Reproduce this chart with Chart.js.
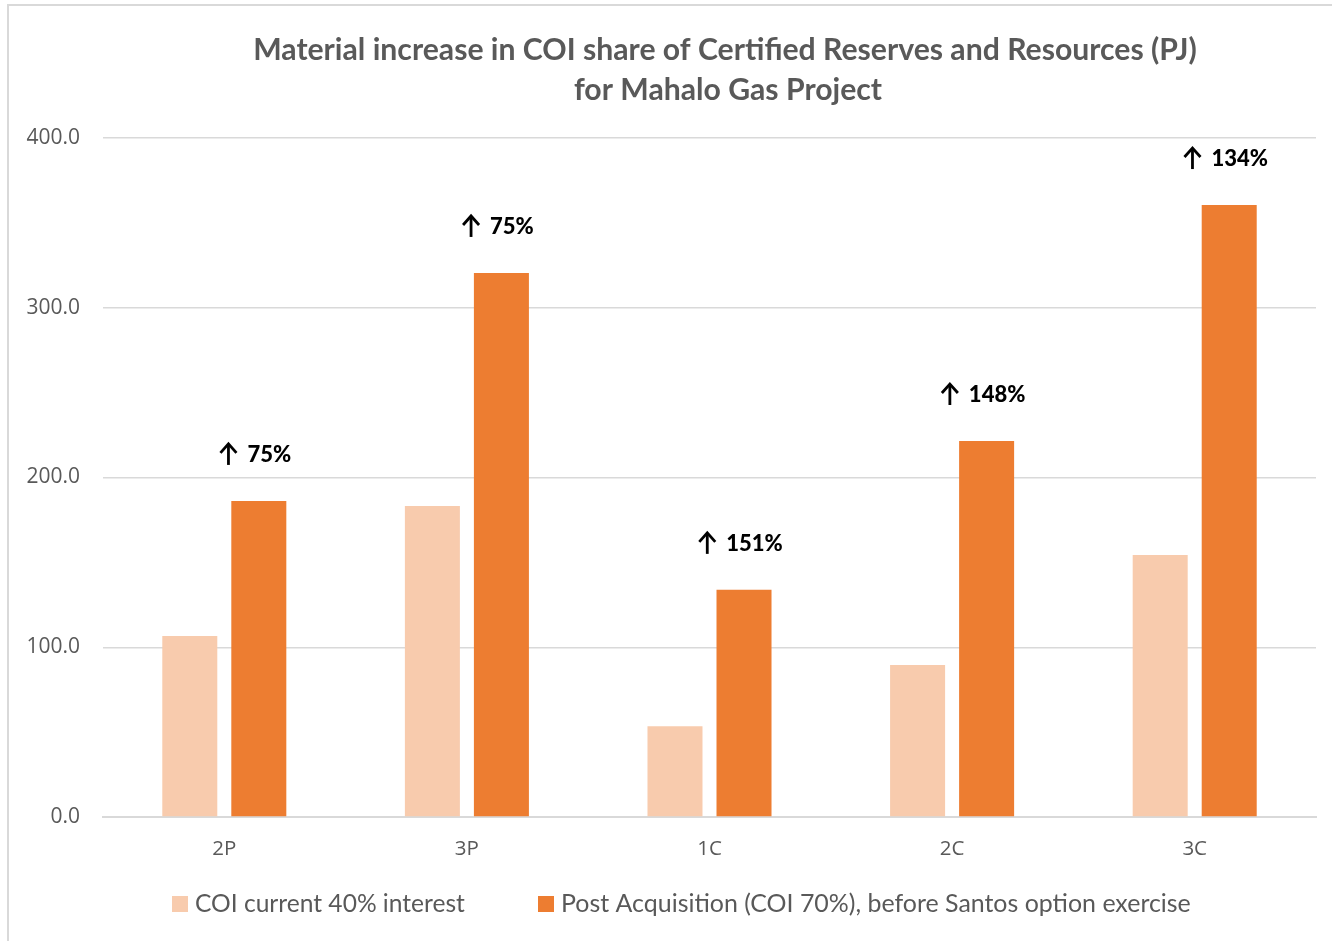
<!DOCTYPE html>
<html>
<head>
<meta charset="utf-8">
<script src="https://cdn.jsdelivr.net/npm/chart.js@4.4.1/dist/chart.umd.min.js"></script>
<style>
html,body{margin:0;padding:0;background:#fff;}
#frame{position:absolute;left:7px;top:4px;width:1400px;height:1000px;border-left:2px solid #d9d9d9;border-top:2px solid #d9d9d9;}
#wrap{position:absolute;left:0;top:0;width:1332px;height:941px;}
</style>
</head>
<body>
<div id="frame"></div>
<div id="wrap"><canvas id="c" width="1332" height="941"></canvas></div>
<script>
const categories = ['2P', '3P', '1C', '2C', '3C'];
const currentInterest = [106.6, 183.2, 53.5, 89.5, 154.3];
const postAcquisition = [186.2, 320.5, 133.8, 221.5, 360.5];
const increaseLabels = ['75%', '75%', '151%', '148%', '134%'];
const seriesNames = ['COI current 40% interest', 'Post Acquisition (COI 70%), before Santos option exercise'];
const yTicks = [0, 100, 200, 300, 400];
const titleLines = ['Material increase in COI share of Certified Reserves and Resources (PJ)', 'for Mahalo Gas Project'];

const GRAY = '#595959';

function fitFont(ctx, text, weight, family, targetW, base) {
  ctx.font = weight + ' ' + base + 'px ' + family;
  const w = ctx.measureText(text).width;
  return base * targetW / w;
}

const overlay = {
  id: 'overlay',
  afterDraw(chart) {
    const ctx = chart.ctx;
    ctx.save();
    // Title
    const fam = 'Lato, "Open Sans", sans-serif';
    const ts = fitFont(ctx, titleLines[0], 'bold', fam, 944, 26);
    ctx.font = 'bold ' + ts + 'px ' + fam;
    ctx.fillStyle = GRAY;
    ctx.textAlign = 'center';
    ctx.textBaseline = 'middle';
    ctx.fillText(titleLines[0], 725, 50);
    ctx.fillText(titleLines[1], 728, 90);

    // annotations
    const meta = chart.getDatasetMeta(1);
    meta.data.forEach((bar, i) => {
      const cx = bar.x - 4;
      const y = bar.y - 47;
      ctx.font = '900 22px Lato, "Open Sans", sans-serif';
      const txt = increaseLabels[i];
      const tw = ctx.measureText(txt).width;
      const arrowW = 20, gap = 9;
      const total = arrowW + gap + tw;
      const left = cx - total / 2;
      ctx.strokeStyle = '#000';
      ctx.fillStyle = '#000';
      ctx.lineWidth = 2.8;
      ctx.beginPath();
      ctx.moveTo(left + arrowW / 2, y + 11);
      ctx.lineTo(left + arrowW / 2, y - 10);
      ctx.stroke();
      ctx.beginPath();
      ctx.moveTo(left + 2, y - 1);
      ctx.lineTo(left + arrowW / 2, y - 10);
      ctx.lineTo(left + arrowW - 2, y - 1);
      ctx.stroke();
      ctx.textAlign = 'left';
      ctx.textBaseline = 'middle';
      ctx.fillText(txt, left + arrowW + gap, y + 1);
    });

    // legend
    const ds = chart.data.datasets;
    ctx.textAlign = 'left';
    ctx.textBaseline = 'middle';
    const lfam = 'Lato, "Open Sans", sans-serif';
    const boxX = [172, 538];
    const textW = [270, 630];
    ds.forEach((d, i) => {
      ctx.fillStyle = d.backgroundColor;
      ctx.fillRect(boxX[i], 896, 16, 16);
      const ls = fitFont(ctx, d.label, 'normal', lfam, textW[i], 22);
      ctx.font = ls + 'px ' + lfam;
      ctx.fillStyle = GRAY;
      ctx.fillText(d.label, boxX[i] + 23, 904);
    });
    ctx.restore();
  }
};

new Chart(document.getElementById('c'), {
  type: 'bar',
  data: {
    labels: categories,
    datasets: [
      { label: seriesNames[0], data: currentInterest, backgroundColor: '#F8CBAD' },
      { label: seriesNames[1], data: postAcquisition, backgroundColor: '#ED7D31' }
    ]
  },
  options: {
    responsive: false,
    animation: false,
    devicePixelRatio: 1,
    layout: { padding: { left: 0, right: 16, top: 138, bottom: 74 } },
    plugins: { legend: { display: false }, title: { display: false }, tooltip: { enabled: false } },
    datasets: { bar: { categoryPercentage: 0.569, barPercentage: 0.797 } },
    scales: {
      x: {
        grid: { display: false, drawTicks: false },
        border: { display: true, color: '#d9d9d9', width: 2 },
        ticks: { color: GRAY, font: { family: '"Open Sans", sans-serif', size: 20.5 }, padding: 20 },
        afterFit(s) { s.height = 50; }
      },
      y: {
        min: 0, max: 400,
        afterBuildTicks(s) { s.ticks = yTicks.map(v => ({ value: v })); },
        grid: { color: '#d9d9d9', lineWidth: 1.5, drawTicks: false },
        border: { display: false },
        ticks: { color: GRAY, font: { family: '"Open Sans", sans-serif', size: 21 }, padding: 23, callback: v => v.toFixed(1) },
        afterFit(s) { s.width = 103; }
      }
    }
  },
  plugins: [overlay]
});
</script>
</body>
</html>
